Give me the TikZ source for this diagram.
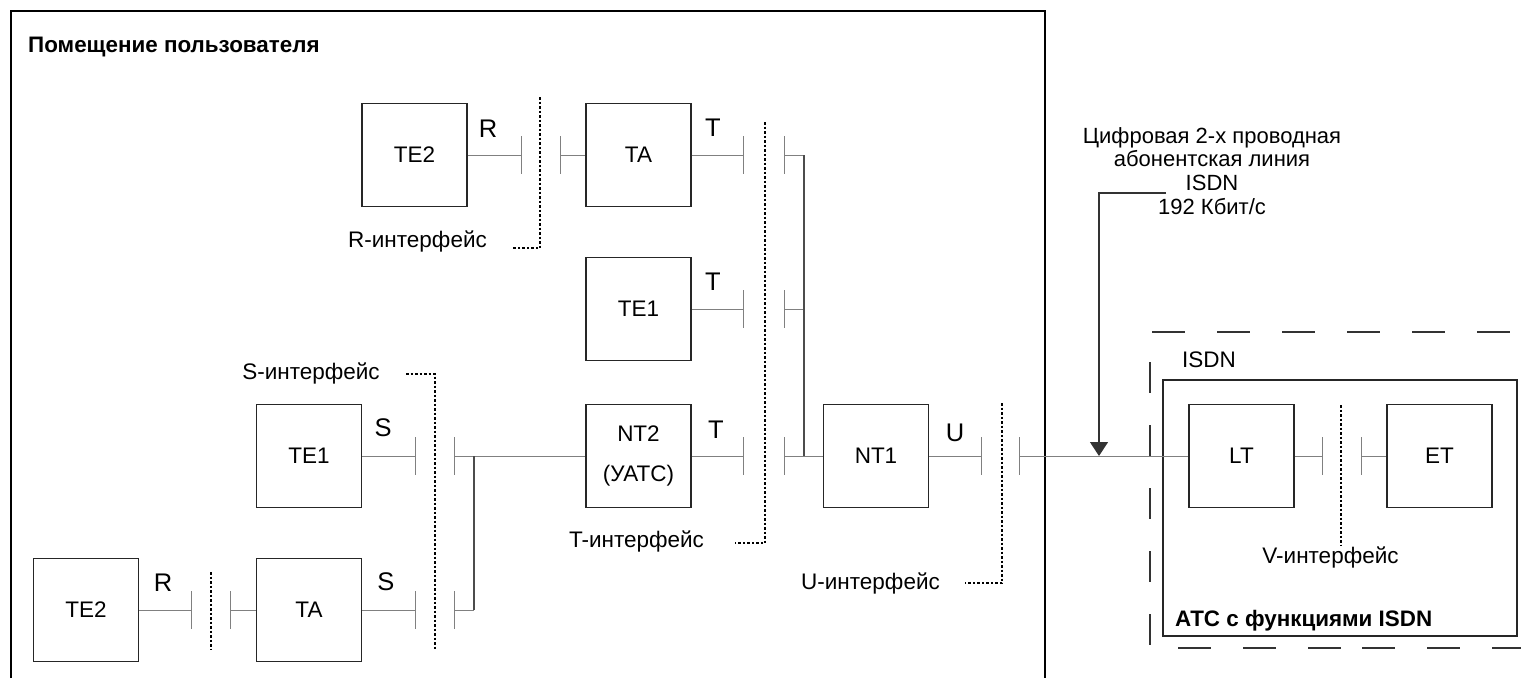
\documentclass[tikz,border=0pt]{standalone}
\usepackage{fontspec}
\setmainfont{Liberation Sans}
\usetikzlibrary{arrows.meta}
\tikzset{
  box/.style={draw=black!85, line width=1.2pt, minimum width=105pt, minimum height=103pt, inner sep=0pt, font=\fontsize{22.5}{26}\selectfont},
  conn/.style={draw=black!50, line width=1pt},
  bus/.style={draw=black!70, line width=1.2pt},
  tickline/.style={draw=black!50, line width=1pt},
  dots/.style={draw=black, line width=1.2pt, dash pattern=on 2.5pt off 2pt},
  lbl/.style={font=\fontsize{25.5}{30}\selectfont, anchor=base, inner sep=0pt},
  txt/.style={font=\fontsize{22.5}{26}\selectfont, anchor=base, inner sep=0pt},
  btxt/.style={font=\fontsize{22.4}{26}\selectfont\bfseries, anchor=base west, inner sep=0pt},
  bigdash/.style={draw=black!80, line width=1.2pt},
  arrowline/.style={draw=black!80, line width=1.2pt, -{Triangle[width=18pt,length=14pt]}},
}
\newcommand\mytick[1]{\draw[tickline] ([yshift=19pt]#1) -- ([yshift=-19pt]#1);}
\begin{document}
\begin{tikzpicture}[x=1pt,y=-1pt]
\useasboundingbox (0,0) rectangle (1521,678);
\fill[white] (0,0) rectangle (1521,678);
% outer room
\draw[black, line width=1.5pt] (11,678) -- (11,11) -- (1045,11) -- (1045,678);
\node[btxt] (title) at (28,52.7) {Помещение пользователя};

% ATC box
\node[draw=black!85, line width=1.2pt, minimum width=354pt, minimum height=256pt, inner sep=0pt] (ATC) at (1340,508) {};

% boxes
\node[box] (TE2a) at (414.5,155) {TE2};
\node[box] (TAa) at (638.5,155) {TA};
\node[box] (TE1b) at (638.5,309) {TE1};
\node[box, align=center, font=\fontsize{22.5}{40}\selectfont] (NT2) at (638.5,456) {NT2\\(УАТС)};
\node[box] (NT1) at (876,456) {NT1};
\node[box] (TE1a) at (309,456) {TE1};
\node[box] (TE2b) at (86,610) {TE2};
\node[box] (TAb) at (309,610) {TA};
\node[box] (LT) at (1241.5,456) {LT};
\node[box] (ET) at (1439.5,456) {ET};

% tick coordinates
\coordinate (r1) at (521,155); \coordinate (r2) at (560,155);
\coordinate (t1) at (743,155); \coordinate (t2) at (784,155);
\coordinate (b1) at (804,155);
\coordinate (t3) at (743,309); \coordinate (t4) at (784,309);
\coordinate (b2) at (804,309);
\coordinate (s1) at (415,456); \coordinate (s2) at (454,456);
\coordinate (j1) at (474,456);
\coordinate (t5) at (743,456); \coordinate (t6) at (784,456);
\coordinate (j2) at (804,456);
\coordinate (u1) at (981,456); \coordinate (u2) at (1019,456);
\coordinate (v1) at (1322,456); \coordinate (v2) at (1361,456);
\coordinate (r3) at (191,610); \coordinate (r4) at (230,610);
\coordinate (s3) at (415,610); \coordinate (s4) at (454,610);
\coordinate (j3) at (474,610);

% connectors
\draw[conn] (TE2a.east) -- (r1);
\draw[conn] (r2) -- (TAa.west);
\draw[conn] (TAa.east) -- (t1);
\draw[conn] (t2) -- (b1);
\draw[conn] (TE1b.east) -- (t3);
\draw[conn] (t4) -- (b2);
\draw[conn] (NT2.east) -- (t5);
\draw[conn] (t6) -- (NT1.west);
\draw[bus] (b1) -- (j2);
\draw[conn] (NT1.east) -- (u1);
\draw[conn] (u2) -- (LT.west);
\draw[conn] (LT.east) -- (v1);
\draw[conn] (v2) -- (ET.west);
\draw[conn] (TE1a.east) -- (s1);
\draw[conn] (s2) -- (NT2.west);
\draw[conn] (TE2b.east) -- (r3);
\draw[conn] (r4) -- (TAb.west);
\draw[conn] (TAb.east) -- (s3);
\draw[conn] (s4) -- (j3);
\draw[bus] (j3) -- (j1);

% ticks
\mytick{r1}\mytick{r2}\mytick{t1}\mytick{t2}\mytick{t3}\mytick{t4}
\mytick{s1}\mytick{s2}\mytick{t5}\mytick{t6}\mytick{u1}\mytick{u2}
\mytick{v1}\mytick{v2}\mytick{r3}\mytick{r4}\mytick{s3}\mytick{s4}

% interface separators (dotted)
\draw[dots] (540,97) -- (540,248) -- (513,248);
\draw[dots] (765,122) -- (765,543) -- (735,543);
\draw[dots] (1002,403) -- (1002,583) -- (965,583);
\draw[dots] (406,374) -- (435,374) -- (435,649);
\draw[dots] (211,572) -- (211,649);
\draw[dots] (1341,405) -- (1341,546);

% reference point letters
\node[lbl] (lR1) at (488,137) {R};
\node[lbl] (lT1) at (713,136) {T};
\node[lbl] (lT2) at (713,290) {T};
\node[lbl] (lT3) at (716,438) {T};
\node[lbl] (lU) at (955,441) {U};
\node[lbl] (lS1) at (383,436.7) {S};
\node[lbl] (lS2) at (386,590.7) {S};
\node[lbl] (lR2) at (163,591) {R};

% interface names
\node[txt] (iR) at (417.5,247) {R-интерфейс};
\node[txt] (iS) at (311,379) {S-интерфейс};
\node[txt] (iT) at (636.5,547) {T-интерфейс};
\node[txt] (iU) at (870.5,589) {U-интерфейс};
\node[txt] (iV) at (1330.5,563) {V-интерфейс};

% ISDN frame (long dashes)
\draw[bigdash, dash pattern=on 33pt off 32pt] (1152,332) -- (1510,332);
\draw[bigdash, dash pattern=on 31pt off 32pt] (1150,362) -- (1150,646);
\draw[bigdash, dash pattern=on 33pt off 32pt] (1178,648) -- (1341,648);
\draw[bigdash, dash pattern=on 33pt off 32pt] (1362,648) -- (1521,648);
\node[txt] (isdn) at (1209,367) {ISDN};
\node[btxt] (atcl) at (1175,626.7) {АТС с функциями ISDN};

% line description and arrow
\node[align=center, anchor=north, inner sep=0pt, font=\fontsize{22}{23.7}\selectfont] (desc) at (1212,127) {Цифровая 2-х проводная\\абонентская линия\\ISDN\\192 Кбит/с};
\coordinate (a0) at (1166,193);
\coordinate (a1) at (1099,456);
\draw[arrowline] (a0) -- (1099,193) -- (a1);
\end{tikzpicture}
\end{document}
